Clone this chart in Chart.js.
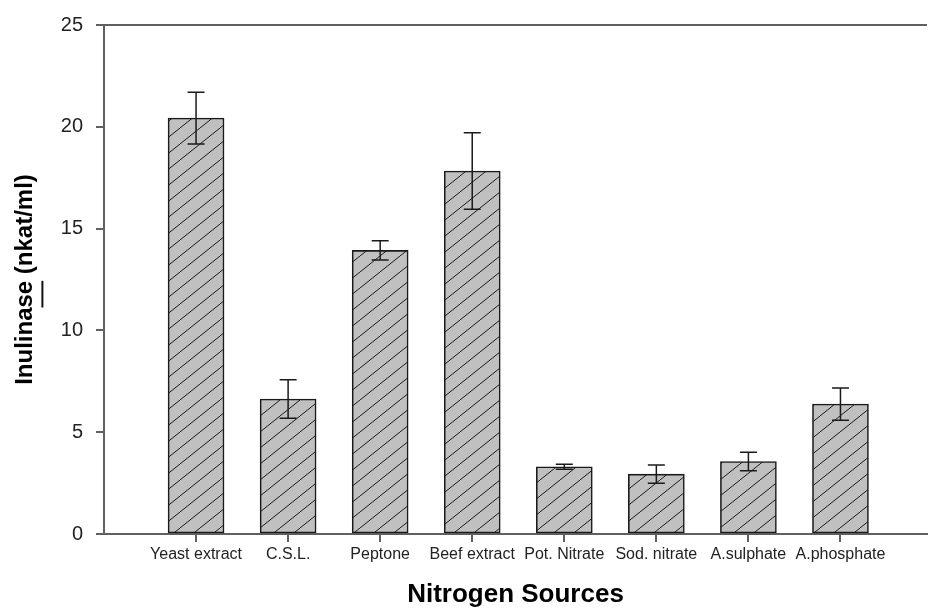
<!DOCTYPE html>
<html>
<head>
<meta charset="utf-8">
<script src="https://cdn.jsdelivr.net/npm/chart.js@4.4.1/dist/chart.umd.min.js"></script>
<style>
  html, body { margin: 0; padding: 0; background: #ffffff; overflow: hidden; }
  canvas { display: block; }
</style>
</head>
<body>
<canvas id="chart" width="928" height="610"></canvas>
<script>
// Nitrogen source screening: inulinase activity (nkat/ml), mean with error bar
const categories = ['Yeast extract', 'C.S.L.', 'Peptone', 'Beef extract', 'Pot. Nitrate', 'Sod. nitrate', 'A.sulphate', 'A.phosphate'];
const inulinase = [20.43, 6.63, 13.93, 17.83, 3.30, 2.94, 3.56, 6.38];
const errors = [1.27, 0.94, 0.47, 1.88, 0.12, 0.45, 0.45, 0.79];
const yTicks = [0, 5, 10, 15, 20, 25];

const AXIS_COLOR = '#606060';
const FONT = "'Liberation Sans', Arial, sans-serif";

// grey fill with "/" hatching
function makeHatch() {
  const w = 20, h = 16;
  const c = document.createElement('canvas');
  c.width = w; c.height = h;
  const g = c.getContext('2d');
  g.fillStyle = '#c0c0c0';
  g.fillRect(0, 0, w, h);
  g.strokeStyle = '#1a1a1a';
  g.lineWidth = 1;
  g.beginPath();
  for (const dx of [-w, 0, w]) {
    g.moveTo(dx, h);
    g.lineTo(dx + w, 0);
  }
  g.stroke();
  return g.createPattern(c, 'repeat');
}

const ctx = document.getElementById('chart').getContext('2d');

const frameAndErrors = {
  id: 'frameAndErrors',
  afterDatasetsDraw(chart) {
    const { ctx, scales: { x, y }, chartArea } = chart;
    // top frame line at the highest tick
    ctx.save();
    ctx.strokeStyle = AXIS_COLOR;
    ctx.lineWidth = 2;
    const yt = y.getPixelForValue(yTicks[yTicks.length - 1]);
    ctx.beginPath();
    ctx.moveTo(chartArea.left - 8, yt);
    ctx.lineTo(chartArea.right, yt);
    ctx.stroke();

    // error bars
    ctx.strokeStyle = '#1a1a1a';
    ctx.lineWidth = 1.5;
    const cap = 8.5;
    inulinase.forEach((v, i) => {
      const px = x.getPixelForValue(i + 1);
      const hi = y.getPixelForValue(v + errors[i]);
      const lo = y.getPixelForValue(v - errors[i]);
      ctx.beginPath();
      ctx.moveTo(px, hi); ctx.lineTo(px, lo);
      ctx.moveTo(px - cap, hi); ctx.lineTo(px + cap, hi);
      ctx.moveTo(px - cap, lo); ctx.lineTo(px + cap, lo);
      ctx.stroke();
    });

    // short underline mark beneath "se" of the y-axis title
    const t = y.options.title;
    ctx.font = `bold ${t.font.size}px ${FONT}`;
    const full = ctx.measureText(t.text).width;
    const a = ctx.measureText('Inulina').width;
    const b = ctx.measureText('Inulinase').width;
    const cx = y.left + t.padding.top + t.font.size * 1.2 / 2;
    const cy = (y.top + y.bottom) / 2;
    ctx.strokeStyle = '#111111';
    ctx.lineWidth = 2;
    ctx.beginPath();
    ctx.moveTo(cx + 17, cy + full / 2 - a);
    ctx.lineTo(cx + 17, cy + full / 2 - b);
    ctx.stroke();
    ctx.restore();
  }
};

new Chart(ctx, {
  type: 'bar',
  data: {
    datasets: [{
      data: inulinase.map((v, i) => ({ x: i + 1, y: v })),
      backgroundColor: makeHatch(),
      borderColor: '#1a1a1a',
      borderWidth: 1.6,
      barThickness: 56,
      borderSkipped: false
    }]
  },
  options: {
    responsive: false,
    maintainAspectRatio: false,
    animation: false,
    devicePixelRatio: 1,
    layout: { padding: { left: 7, top: 24, right: 1, bottom: 0 } },
    plugins: { legend: { display: false }, tooltip: { enabled: false } },
    scales: {
      x: {
        type: 'linear',
        offset: false,
        min: 0,
        max: 8.94,
        afterBuildTicks(scale) { scale.ticks = categories.map((_, i) => ({ value: i + 1 })); },
        afterFit(scale) { scale.height = 76; },
        ticks: {
          autoSkip: false,
          maxRotation: 0,
          padding: 3,
          color: '#222222',
          font: { family: FONT, size: 16 },
          callback: (v) => categories[v - 1]
        },
        grid: { offset: false, drawOnChartArea: false, drawTicks: true, tickLength: 8, color: AXIS_COLOR, lineWidth: 2 },
        border: { display: true, color: AXIS_COLOR, width: 2 },
        title: {
          display: true,
          text: 'Nitrogen Sources',
          color: '#000000',
          font: { family: FONT, size: 26, weight: 'bold' },
          padding: { top: 0, bottom: 0 }
        }
      },
      y: {
        min: 0,
        max: 25,
        afterBuildTicks(scale) { scale.ticks = yTicks.map(v => ({ value: v })); },
        afterFit(scale) { scale.width = 97; },
        ticks: {
          padding: 13,
          color: '#222222',
          font: { family: FONT, size: 20 }
        },
        grid: { drawOnChartArea: false, drawTicks: true, tickLength: 8, color: AXIS_COLOR, lineWidth: 2 },
        border: { display: true, color: AXIS_COLOR, width: 2 },
        title: {
          display: true,
          text: 'Inulinase (nkat/ml)',
          color: '#000000',
          font: { family: FONT, size: 24, weight: 'bold' },
          padding: { top: 4, bottom: 0 }
        }
      }
    }
  },
  plugins: [frameAndErrors]
});
</script>
</body>
</html>
